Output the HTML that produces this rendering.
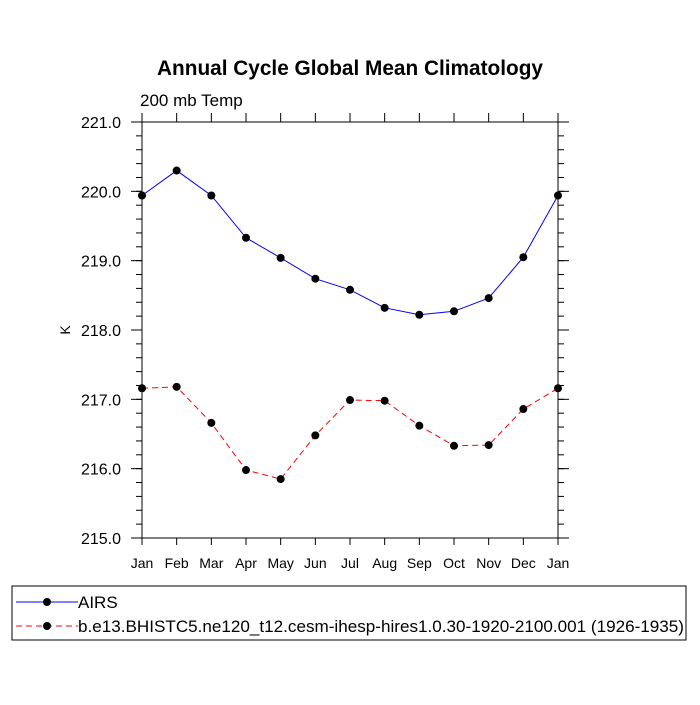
<!DOCTYPE html>
<html><head><meta charset="utf-8"><style>body{margin:0;background:#fff}svg{font-family:"Liberation Sans",sans-serif}</style></head>
<body>
<svg width="700" height="700" id="c">
<text x="350" y="75" text-anchor="middle" font-size="20.8" font-weight="bold">Annual Cycle Global Mean Climatology</text>
<text x="140" y="106" font-size="17">200 mb Temp</text>
<text x="70" y="330" font-size="14" text-anchor="middle" transform="rotate(-90 70 330)">K</text>
<rect x="142" y="122" width="416" height="416" fill="none" stroke="#000" stroke-width="1"/>
<g id="ticks"></g><g id="series"></g>
<rect x="12" y="586" width="674" height="54" fill="none" stroke="#000" stroke-width="1"/>
<g>
<line x1="16" y1="602" x2="78" y2="602" stroke="#00f"/><circle cx="47" cy="602" r="4" fill="#000"/>
<text x="78" y="608" font-size="17">AIRS</text></g>
<g>
<line x1="16" y1="626" x2="78" y2="626" stroke="#f00" stroke-dasharray="6,4"/><circle cx="47" cy="626" r="4" fill="#000"/>
<text x="78" y="632" font-size="17" textLength="606" lengthAdjust="spacingAndGlyphs">b.e13.BHISTC5.ne120_t12.cesm-ihesp-hires1.0.30-1920-2100.001 (1926-1935)</text></g>
</svg>
<script>
const months=["Jan","Feb","Mar","Apr","May","Jun","Jul","Aug","Sep","Oct","Nov","Dec","Jan"];
const airs=[219.94,220.3,219.94,219.33,219.04,218.74,218.58,218.32,218.22,218.27,218.46,219.05,219.94];
const cesm=[217.16,217.18,216.66,215.98,215.85,216.48,216.99,216.98,216.62,216.33,216.34,216.86,217.16];
const yTicks=[215,216,217,218,219,220,221];
const ns="http://www.w3.org/2000/svg";
const X=i=>142+i*416/12, Y=v=>538-(v-215)*416/6;
function mk(t,a,p){const e=document.createElementNS(ns,t);for(const k in a)e.setAttribute(k,a[k]);p.appendChild(e);return e;}
const tk=document.getElementById('ticks'), sg=document.getElementById('series');
months.forEach((m,i)=>{const x=X(i);
mk('line',{x1:x,y1:538,x2:x,y2:545,stroke:'#000'},tk);
mk('line',{x1:x,y1:122,x2:x,y2:113,stroke:'#000'},tk);
const t=mk('text',{x:x,y:568,'font-size':14,'text-anchor':'middle'},tk);t.textContent=m;

});
for(let v=215;v<=221.001;v+=0.2){const y=Y(v);
mk('line',{x1:136,y1:y,x2:142,y2:y,stroke:'#000'},tk);mk('line',{x1:558,y1:y,x2:564,y2:y,stroke:'#000'},tk);}
yTicks.forEach(v=>{const y=Y(v);
mk('line',{x1:131,y1:y,x2:142,y2:y,stroke:'#000'},tk);mk('line',{x1:558,y1:y,x2:569,y2:y,stroke:'#000'},tk);
const t=mk('text',{x:121,y:y+6,'font-size':16,'text-anchor':'end'},tk);t.textContent=v.toFixed(1);

});
function draw(vals,col,dash,name){
const l=mk('polyline',{points:vals.map((v,i)=>X(i)+','+Y(v)).join(' '),fill:'none',stroke:col,'stroke-dasharray':dash},sg);


vals.forEach((v,i)=>{const c=mk('circle',{cx:X(i),cy:Y(v),r:4,fill:'#000'},sg);

});}
draw(airs,'#00f','none','airs');
draw(cesm,'#f00','6,4','cesm');
</script>
</body></html>
